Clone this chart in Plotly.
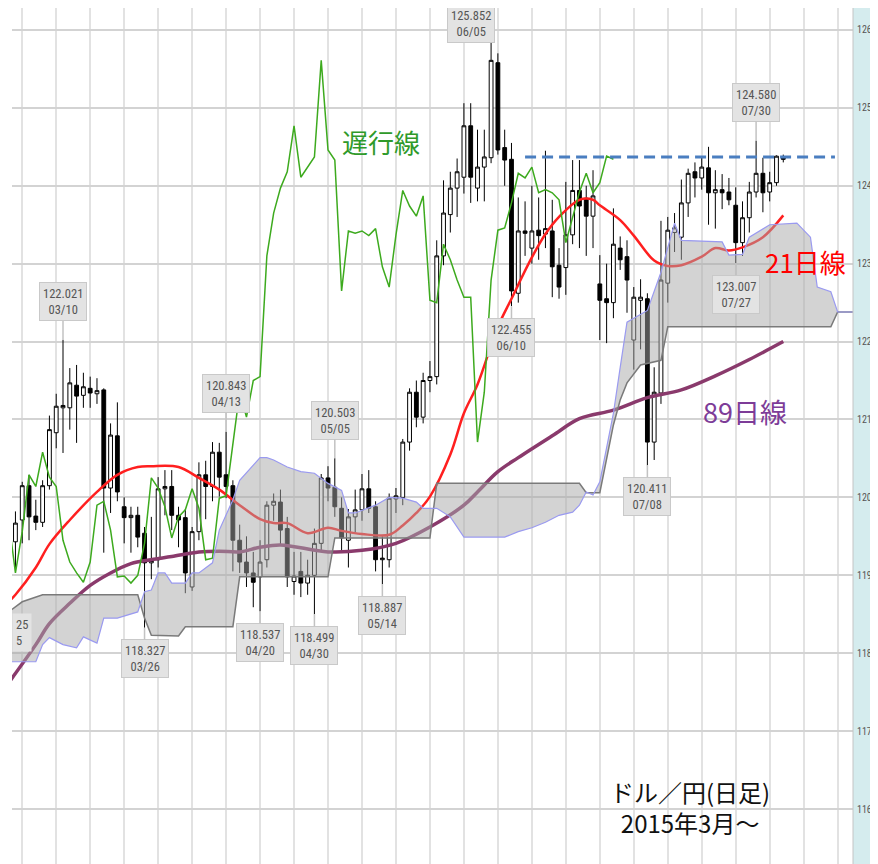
import pandas as pd
import plotly.graph_objects as go

# ---------------- data ----------------
dates = [d.strftime("%m/%d") for d in pd.bdate_range("2015-02-25", "2015-08-05")]

opens = [118.95, 118.85, 119.43, 119.71, 120.15, 119.76, 119.68, 120.15, 120.83,
         121.15, 121.15, 121.44, 121.31, 121.40, 121.33, 121.38, 120.12, 120.79, 119.88,
         119.74, 119.77, 119.54, 119.16, 119.20, 120.11, 120.14, 119.77, 119.74, 118.85,
         119.56, 120.29, 120.14, 120.58, 120.29, 120.15, 119.45, 119.17, 119.03, 118.98,
         119.20, 119.90, 119.94, 119.60, 118.92, 119.05, 118.90, 119.00, 119.41, 120.25,
         120.13, 119.86, 119.45, 119.75, 119.84, 120.11, 119.88, 119.20, 119.20, 119.98,
         120.00, 120.71, 121.35, 121.03, 121.50, 121.55, 123.10, 123.63, 123.97, 124.11,
         124.77, 123.97, 124.24, 124.36, 125.58, 124.49, 124.34, 122.62, 123.42, 123.20,
         123.43, 123.38, 123.42, 122.98, 122.95, 123.37, 123.94, 123.84, 123.61, 122.74,
         122.55, 122.50, 123.20, 123.09, 122.02, 122.53, 122.55, 120.71, 121.34, 122.75,
         123.40, 123.34, 123.78, 124.18, 124.10, 124.23, 123.91, 123.95, 123.92, 123.75,
         123.27, 123.59, 123.92, 124.16, 123.92, 124.04, 124.36]
highs = [119.25, 119.45, 119.82, 120.20, 120.29, 119.97, 120.22, 121.05, 121.33,
         122.021, 121.66, 121.70, 121.60, 121.55, 121.53, 121.40, 120.95, 121.22, 120.00,
         119.88, 119.88, 119.62, 119.75, 120.26, 120.35, 120.35, 119.88, 119.85, 119.62,
         120.45, 120.47, 120.71, 120.70, 120.843, 120.22, 119.65, 119.50, 119.30, 119.45,
         119.95, 120.05, 120.10, 119.75, 119.30, 119.30, 119.20, 119.60, 120.30, 120.40,
         120.503, 120.00, 119.85, 120.10, 120.30, 120.35, 119.95, 119.50, 120.05, 120.12,
         120.75, 121.40, 121.50, 121.60, 121.75, 123.30, 124.07, 124.18, 124.35, 125.06,
         125.06, 124.72, 124.72, 125.852, 125.70, 124.72, 124.55, 123.85, 123.80, 124.00,
         123.85, 124.45, 123.82, 123.20, 124.05, 124.33, 124.33, 124.00, 124.20, 123.11,
         123.00, 123.71, 123.35, 123.30, 122.70, 122.80, 122.62, 121.67, 123.55, 123.60,
         123.65, 124.08, 124.22, 124.30, 124.38, 124.50, 124.20, 124.15, 124.10, 123.98,
         123.80, 124.05, 124.58, 124.36, 124.18, 124.39, 124.40]
lows = [118.625, 118.75, 119.05, 119.41, 119.45, 119.58, 119.62, 120.10, 120.63,
        120.57, 120.87, 120.70, 121.15, 121.15, 121.20, 119.29, 119.80, 119.95, 119.41,
        119.29, 119.36, 118.327, 118.95, 119.10, 119.77, 119.58, 119.36, 118.77, 118.80,
        119.45, 119.72, 119.95, 120.01, 119.99, 119.05, 119.03, 118.85, 118.59, 118.537,
        119.10, 119.70, 119.40, 118.85, 118.75, 118.72, 118.75, 118.499, 119.30, 119.95,
        119.75, 119.30, 119.10, 119.55, 119.70, 119.80, 119.05, 118.887, 119.10, 119.80,
        119.90, 120.60, 120.90, 120.95, 121.35, 121.45, 122.98, 123.40, 123.60, 123.90,
        123.78, 123.80, 123.80, 124.29, 124.40, 124.00, 122.455, 122.50, 123.10, 123.00,
        123.05, 123.20, 122.57, 122.55, 122.60, 123.25, 123.20, 123.10, 123.20, 122.02,
        121.98, 122.30, 122.92, 122.37, 121.64, 121.90, 120.411, 120.48, 121.20, 122.50,
        123.15, 123.05, 123.60, 123.85, 123.95, 123.50, 123.45, 123.70, 123.75, 123.007,
        123.10, 123.40, 123.85, 123.66, 123.80, 124.00, 124.30]
closes = [118.85, 119.40, 119.67, 120.15, 119.75, 119.68, 120.15, 120.87, 121.17,
          121.18, 121.47, 121.30, 121.42, 121.34, 121.37, 120.12, 120.80, 120.07, 119.74,
          119.77, 119.49, 119.16, 119.19, 120.11, 120.14, 119.77, 119.71, 119.03, 119.56,
          120.29, 120.14, 120.58, 120.26, 120.14, 119.45, 119.17, 119.03, 118.91, 119.17,
          119.90, 119.95, 119.58, 118.98, 118.99, 118.90, 119.00, 119.41, 120.25, 120.12,
          119.88, 119.48, 119.75, 119.84, 120.11, 119.86, 119.20, 119.22, 119.99, 120.02,
          120.71, 121.35, 121.03, 121.50, 121.55, 123.10, 123.65, 123.97, 124.18, 124.77,
          124.11, 124.24, 124.37, 125.61, 124.46, 124.33, 122.65, 123.42, 123.39, 123.42,
          123.36, 123.45, 122.96, 122.70, 123.37, 123.94, 123.74, 123.61, 123.87, 122.53,
          122.50, 123.25, 123.05, 122.79, 122.57, 122.57, 120.71, 121.35, 122.79, 123.43,
          123.46, 123.78, 124.16, 124.10, 124.24, 123.91, 123.95, 123.91, 123.82, 123.27,
          123.59, 123.92, 124.16, 123.91, 124.04, 124.38, 124.34]

# 21-day moving average (day number -> value)
ma21_day = [1, 2, 5, 7, 10, 14, 17, 20, 22, 26, 29, 32, 35, 38, 40, 42, 45, 48, 50, 53,
            57, 59, 61, 63, 66, 68, 70, 73, 75, 78, 80, 82, 85, 87, 88, 91, 93, 96, 98,
            100, 103, 105, 107, 109, 112, 115]
ma21_val = [118.66, 118.75, 119.10, 119.40, 119.71, 120.07, 120.29, 120.39, 120.40,
            120.39, 120.25, 120.10, 119.90, 119.72, 119.67, 119.67, 119.54, 119.61,
            119.57, 119.53, 119.52, 119.64, 119.80, 120.01, 120.55, 121.08, 121.45,
            122.19, 122.55, 123.08, 123.38, 123.60, 123.82, 123.82, 123.75, 123.56,
            123.36, 123.04, 122.97, 122.98, 123.09, 123.20, 123.17, 123.21, 123.34, 123.62]

# 89-day moving average
ma89_day = [1, 5, 7, 10, 13, 16, 19, 22, 25, 29, 32, 35, 38, 41, 48, 53, 58, 63, 68,
            70, 73, 76, 81, 85, 90, 95, 100, 105, 110, 115]
ma89_val = [117.62, 118.11, 118.38, 118.64, 118.87, 119.03, 119.15, 119.20, 119.24,
            119.30, 119.31, 119.30, 119.36, 119.39, 119.30, 119.32, 119.41, 119.62,
            119.90, 120.07, 120.33, 120.51, 120.79, 121.01, 121.12, 121.28, 121.38,
            121.56, 121.77, 122.00]

# Ichimoku cloud: leading span 1 (blue edge) and leading span 2 (gray edge)
spanA_day = [1, 5, 6, 7, 9, 11, 12, 14, 15, 17, 20, 21, 22, 23, 24, 25, 27, 28, 29,
             31, 32, 34, 35, 38, 39, 40, 42, 44, 46, 48, 50, 51, 52, 55, 57, 59, 61,
             62, 64, 66, 68, 74, 76, 78, 80, 82, 84, 85, 86, 87, 88, 90, 91, 92, 95,
             97, 99, 100, 106, 107, 109, 110, 113, 117, 119, 120, 122, 123, 126]
spanA_val = [117.89, 117.89, 118.11, 118.20, 118.11, 118.07, 118.21, 118.13, 118.45,
             118.45, 118.53, 118.79, 118.81, 119.03, 119.03, 118.90, 118.90, 119.03,
             119.03, 119.16, 119.58, 119.97, 120.22, 120.51, 120.51, 120.48, 120.39,
             120.33, 120.31, 120.18, 120.09, 119.80, 119.80, 119.90, 120.00, 119.99,
             119.94, 119.86, 119.86, 119.75, 119.49, 119.49, 119.56, 119.61, 119.68,
             119.77, 119.81, 119.90, 120.07, 120.03, 120.20, 121.08, 121.67, 122.25,
             122.40, 122.89, 123.52, 123.30, 123.28, 123.11, 123.12, 123.34, 123.50,
             123.52, 123.34, 122.70, 122.64, 122.38, 122.38]
spanB_day = [1, 3, 6, 20, 21, 22, 26, 27, 34, 35, 48, 49, 63, 64, 85, 86, 88, 89, 90,
             91, 92, 94, 97, 98, 122, 123, 126]
spanB_val = [118.53, 118.66, 118.75, 118.75, 118.45, 118.23, 118.22, 118.34, 118.34,
             118.98, 118.98, 119.48, 119.48, 120.18, 120.18, 120.06, 120.06, 120.48,
             120.93, 121.25, 121.47, 121.70, 121.76, 122.19, 122.19, 122.38, 122.38]

chikou_shift = 25
resistance_level = 124.37
resistance_days = [77, 122.6]

high_label_dates = ["03/10", "04/13", "05/05", "06/05", "07/30"]
low_label_dates = ["03/26", "04/20", "04/30", "05/14", "06/10", "07/08", "07/27"]

# ---------------- figure ----------------
days = list(range(len(dates)))
LABEL_FONT = ("Roboto Condensed, Liberation Sans Narrow, Arial Narrow, "
              "Liberation Sans, sans-serif")
JP_FONT = "Noto Sans CJK JP, sans-serif"

fig = go.Figure()

fig.add_trace(go.Candlestick(
    x=days, open=opens, high=highs, low=lows, close=closes,
    increasing=dict(fillcolor="white", line=dict(color="black", width=1)),
    decreasing=dict(fillcolor="black", line=dict(color="black", width=1)),
    whiskerwidth=0, hoverinfo="skip"))

fig.add_trace(go.Scatter(x=ma21_day, y=ma21_val, mode="lines", line_shape="spline",
                         line=dict(color="#ff1f1f", width=2.5), hoverinfo="skip"))
fig.add_trace(go.Scatter(x=ma89_day, y=ma89_val, mode="lines", line_shape="spline",
                         line=dict(color="#8a3a6c", width=3.5), hoverinfo="skip"))
fig.add_trace(go.Scatter(x=[d - chikou_shift for d in days], y=closes, mode="lines",
                         line=dict(color="#3daa1e", width=1.5), hoverinfo="skip"))

fig.add_trace(go.Scatter(x=spanB_day, y=spanB_val, mode="lines",
                         line=dict(color="#7a7a7a", width=1.5), hoverinfo="skip"))
fig.add_trace(go.Scatter(x=spanA_day, y=spanA_val, mode="lines", fill="tonexty",
                         fillcolor="rgba(168,168,168,0.5)",
                         line=dict(color="#9a9af0", width=1.2), hoverinfo="skip"))

fig.add_trace(go.Scatter(x=resistance_days, y=[resistance_level] * 2, mode="lines",
                         line=dict(color="#4a7ec0", width=3, dash="11px,6px"),
                         hoverinfo="skip"))

annotations = []
box = dict(bgcolor="#e3e3e3", bordercolor="#c9c9c9", borderwidth=1, borderpad=3,
           font=dict(family=LABEL_FONT, size=12.5, color="#555555"),
           showarrow=True, arrowhead=0, arrowwidth=1.5, arrowcolor="#c2c2c2",
           xref="x", yref="y")
for d in high_label_dates:
    k = dates.index(d)
    ax, ay = (0, -38)
    if d == "06/05":
        ax, ay = (-20, -18)
    annotations.append(dict(box, x=k, y=highs[k], ax=ax, ay=ay,
                            text=f"{highs[k]:.3f}<br>{d}"))
for d in low_label_dates:
    k = dates.index(d)
    annotations.append(dict(box, x=k, y=lows[k], ax=0, ay=31,
                            text=f"{lows[k]:.3f}<br>{d}"))
# first label (02/25) is cut by the left edge of the plot: only its tail shows
annotations.append(dict(xref="paper", yref="paper", x=0, y=0.2932,
                        xanchor="left", yanchor="top", showarrow=False, align="left",
                        text=f"{lows[0]:.3f}"[-2:] + "<br>" + dates[0][-1:],
                        bgcolor="#e3e3e3", borderpad=3,
                        font=dict(family=LABEL_FONT, size=12.5, color="#555555")))

def txt(s, x, y, color, size):
    return dict(xref="paper", yref="paper", x=x, y=y, text=s, showarrow=False,
                xanchor="center", yanchor="middle", align="center",
                font=dict(family=JP_FONT, size=size, color=color))

annotations += [
    txt("遅行線", 0.4388, 0.8446, "#2f9a2a", 26),
    txt("21日線", 0.943, 0.7033, "#ff0000", 26),
    txt("89日線", 0.8716, 0.5292, "#7d3c98", 27),
    txt("ドル／円(日足)<br>2015年3月〜", 0.806, 0.0666, "#111111", 24),
]

# the page adds an 8 px body margin, so the figure is sized to fit the window
fig.update_layout(
    width=870, height=856,
    margin=dict(l=4, r=25, t=0, b=0),
    paper_bgcolor="white", plot_bgcolor="white",
    showlegend=False, boxgap=0.2,
    annotations=annotations,
    shapes=[dict(type="rect", xref="paper", yref="paper", x0=1, x1=1.05, y0=0, y1=1,
                 fillcolor="#d5ecee", line=dict(width=0), layer="below"),
            dict(type="line", xref="paper", yref="paper", x0=1, x1=1, y0=0, y1=1,
                 line=dict(color="#c4c4c4", width=1))],
    xaxis=dict(range=[1.494, 125.26], showticklabels=False, showgrid=True,
               gridcolor="#e2e2e2", gridwidth=1.5, tick0=3, dtick=5,
               zeroline=False, rangeslider=dict(visible=False), ticks="",
               automargin=False),
    yaxis=dict(range=[115.294, 126.282], side="right", tick0=116, dtick=1,
               tickformat=".3f", showgrid=True, gridcolor="#d3d3d3", gridwidth=2,
               zeroline=False, ticks="", automargin=False, ticklabelstandoff=3,
               tickfont=dict(family=LABEL_FONT, size=10, color="#555555")),
)

fig.write_html("out.html")
